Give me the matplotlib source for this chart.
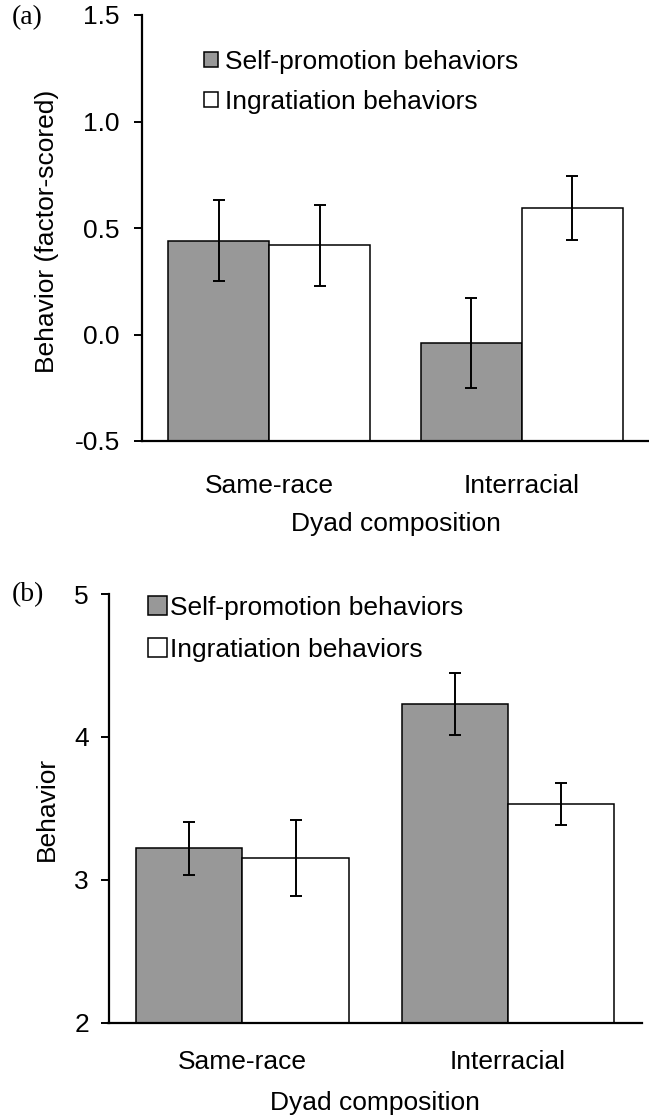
import matplotlib
matplotlib.use('Agg')
import matplotlib.pyplot as plt
import numpy as np

plt.rcParams['font.family'] = ['Liberation Sans', 'DejaVu Sans']

# ---- data ----
categories = ['Same-race', 'Interracial']
series_names = ['Self-promotion behaviors', 'Ingratiation behaviors']

a_self = [0.44, -0.04]
a_self_err = [0.19, 0.21]
a_ingr = [0.42, 0.595]
a_ingr_err = [0.19, 0.15]
a_yticks = [-0.5, 0.0, 0.5, 1.0, 1.5]
a_yticklabels = ['-0.5', '0.0', '0.5', '1.0', '1.5']

b_self = [3.22, 4.23]
b_self_err = [0.185, 0.215]
b_ingr = [3.15, 3.53]
b_ingr_err = [0.265, 0.15]
b_yticks = [2, 3, 4, 5]
b_yticklabels = ['2', '3', '4', '5']

GRAY = '#989898'
FS = 19

W, H = 649, 1116
fig = plt.figure(figsize=(W / 100, H / 100), dpi=100)


def axes_px(left, right, top, bottom):
    return fig.add_axes([left / W, 1 - bottom / H, (right - left) / W, (bottom - top) / H])


def draw(ax, box, self_v, self_e, ingr_v, ingr_e, yticks, yticklabels, ylabel,
         capsize, tickpad_x, ytickpad, xlabel_y, ylabel_x, ylabel_y, leg_xy, hl, hpad, lspace, tag, tag_xy):
    left, right, top, bottom = box
    ymin, ymax = yticks[0], yticks[-1]
    x = np.arange(len(categories))
    w = 0.4
    sv = np.array(self_v)
    iv = np.array(ingr_v)
    b1 = ax.bar(x - w / 2, sv - ymin, bottom=ymin, width=w, color=GRAY, edgecolor='black',
                linewidth=1.1, label=series_names[0], zorder=2)
    b2 = ax.bar(x + w / 2, iv - ymin, bottom=ymin, width=w, color='white', edgecolor='black',
                linewidth=1.1, label=series_names[1], zorder=2)
    ax.errorbar(x - w / 2, sv, yerr=self_e, fmt='none', ecolor='black', elinewidth=1.4,
                capsize=capsize, capthick=1.4, zorder=3)
    ax.errorbar(x + w / 2, iv, yerr=ingr_e, fmt='none', ecolor='black', elinewidth=1.4,
                capsize=capsize, capthick=1.4, zorder=3)
    ax.set_ylim(ymin, ymax)
    # x range set so that bar groups sit where the reference places them
    ax.set_xlim(-0.505, 1.505)
    for s in ['top', 'right']:
        ax.spines[s].set_visible(False)
    for s in ['left', 'bottom']:
        ax.spines[s].set_linewidth(1.6)
    ax.set_yticks(yticks)
    ax.set_yticklabels(yticklabels, fontsize=FS)
    ax.set_xticks(x)
    ax.set_xticklabels(categories, fontsize=FS)
    ax.tick_params(axis='x', length=0, pad=tickpad_x)
    ax.tick_params(axis='y', direction='out', length=6, width=1.4, pad=ytickpad)
    ax.set_xlabel('Dyad composition', fontsize=FS, va='center')
    ax.set_ylabel(ylabel, fontsize=FS, va='center')
    hpx = bottom - top
    wpx = right - left
    ax.xaxis.set_label_coords(0.5, (bottom - xlabel_y) / hpx)
    ax.yaxis.set_label_coords((ylabel_x - left) / wpx, (bottom - ylabel_y) / hpx)
    ax.legend(handles=[b1, b2], loc='upper left', bbox_to_anchor=(leg_xy[0] / W, 1 - leg_xy[1] / H),
              bbox_transform=fig.transFigure, frameon=False, fontsize=FS, borderpad=0,
              borderaxespad=0, handlelength=hl, handleheight=hl, handletextpad=hpad,
              labelspacing=lspace)
    fig.text(tag_xy[0] / W, 1 - tag_xy[1] / H, tag, family='Liberation Serif', fontsize=FS + 1,
             ha='center', va='center')


box_a = (142, 649, 15, 441)
ax_a = axes_px(*box_a)
draw(ax_a, box_a, a_self, a_self_err, a_ingr, a_ingr_err, a_yticks, a_yticklabels,
     'Behavior (factor-scored)', capsize=4, tickpad_x=24, ytickpad=10,
     xlabel_y=524, ylabel_x=47, ylabel_y=231, leg_xy=(204, 50), hl=0.53, hpad=0.27,
     lspace=0.6, tag='(a)', tag_xy=(27, 18))

box_b = (108.5, 641.7, 594, 1022.6)
ax_b = axes_px(*box_b)
draw(ax_b, box_b, b_self, b_self_err, b_ingr, b_ingr_err, b_yticks, b_yticklabels,
     'Behavior', capsize=4.2, tickpad_x=20, ytickpad=8,
     xlabel_y=1103, ylabel_x=47, ylabel_y=809, leg_xy=(148, 596), hl=0.72, hpad=0.11,
     lspace=0.68, tag='(b)', tag_xy=(28, 595))

fig.savefig('out.png', dpi=100)
